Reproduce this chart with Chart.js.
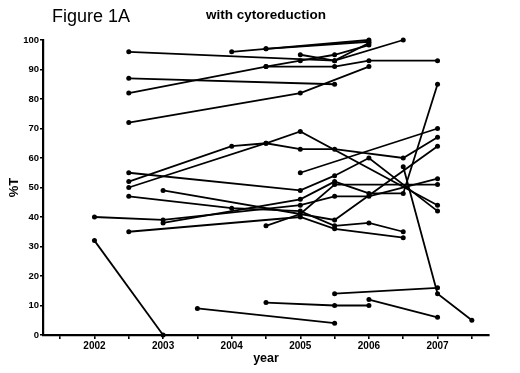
<!DOCTYPE html>
<html>
<head>
  <meta charset="UTF-8">
  <title>Figure 1A</title>
  <style>
    body { margin: 0; background: #fff; }
    #wrap { width: 520px; height: 373px; position: relative; }
  </style>
  <script src="https://cdn.jsdelivr.net/npm/chart.js"></script>
</head>
<body>
  <div id="wrap"><canvas id="fig"></canvas></div>

  <script>
    // one small array per patient: [year, %T]
    const pt01 = [[2002.5, 96], [2005.5, 93], [2006.5, 100]];
    const pt02 = [[2004, 96], [2004.5, 97], [2006, 100]];
    const pt03 = [[2004.5, 97], [2006, 99.4]];
    const pt04 = [[2002.5, 82], [2004.5, 91], [2005, 93], [2005.5, 95], [2006, 98.3]];
    const pt05 = [[2005, 95], [2005.5, 93], [2006, 99]];
    const pt06 = [[2002.5, 87], [2005.5, 85]];
    const pt07 = [[2002.5, 72], [2005, 82], [2006, 91]];
    const pt08 = [[2004.5, 91], [2005.5, 91], [2006, 93], [2007, 93]];
    const pt09 = [[2002.5, 55], [2005, 49], [2005.5, 54], [2006, 60], [2007, 42]];
    const pt10 = [[2002.5, 52], [2004, 64], [2004.5, 65], [2005, 69], [2007, 44]];
    const pt11 = [[2002.5, 50], [2004.5, 65], [2005, 63], [2005.5, 63], [2006.5, 60], [2007, 67]];
    const pt12 = [[2005, 55], [2007, 70]];
    const pt13 = [[2002, 40], [2003, 39], [2005, 44], [2005.5, 47], [2006, 47], [2007, 53]];
    const pt14 = [[2003, 38], [2005, 46], [2005.5, 52], [2006, 48], [2006.5, 48], [2007, 85]];
    const pt15 = [[2002.5, 47], [2004, 43], [2005, 42], [2005.5, 37], [2006, 38], [2006.5, 35]];
    const pt16 = [[2002.5, 35], [2005, 40], [2005.5, 36], [2006.5, 33]];
    const pt17 = [[2003, 49], [2005.5, 39], [2007, 64]];
    const pt18 = [[2004.5, 37], [2005, 41], [2005.5, 51], [2007, 51]];
    const pt19 = [[2006.5, 57], [2007, 14], [2007.5, 5]];
    const pt20 = [[2002, 32], [2003, 0]];
    const pt21 = [[2003.5, 9], [2005.5, 4]];
    const pt22 = [[2004.5, 11], [2005.5, 10], [2006, 10]];
    const pt23 = [[2006, 12], [2007, 6]];
    const pt24 = [[2005.5, 14], [2007, 16]];

    const patients = [pt01, pt02, pt03, pt04, pt05, pt06, pt07, pt08, pt09, pt10, pt11, pt12,
                      pt13, pt14, pt15, pt16, pt17, pt18, pt19, pt20, pt21, pt22, pt23, pt24];

    const xTicks = [2001.5, 2002, 2002.5, 2003, 2003.5, 2004, 2004.5, 2005, 2005.5, 2006, 2006.5, 2007, 2007.5];
    const yTicks = [0, 10, 20, 30, 40, 50, 60, 70, 80, 90, 100];

    const FONT = "Arial, 'Liberation Sans', sans-serif";

    // the two headings above the plot
    const headings = {
      id: 'headings',
      afterDraw(chart) {
        const c = chart.ctx;
        c.save();
        c.fillStyle = '#000';
        c.textBaseline = 'alphabetic';
        c.textAlign = 'left';
        c.font = '18px ' + FONT;
        c.fillText('Figure 1A', 52, 22);
        c.textAlign = 'center';
        c.font = 'bold 13.5px ' + FONT;
        c.fillText('with cytoreduction', 266, 19);
        c.restore();
      }
    };

    const datasets = patients.map(p => ({
      data: p.map(([x, y]) => ({ x: x, y: y })),
      showLine: true,
      borderColor: '#000',
      backgroundColor: '#000',
      borderWidth: 1.8,
      pointRadius: 2.5,
      pointBorderWidth: 0,
      pointBackgroundColor: '#000',
      clip: false
    }));

    new Chart(document.getElementById('fig'), {
      type: 'scatter',
      data: { datasets: datasets },
      plugins: [headings],
      options: {
        responsive: true,
        maintainAspectRatio: false,
        animation: false,
        events: [],
        layout: { padding: { left: 0, top: 40, right: 31, bottom: 0 } },
        plugins: { legend: { display: false }, tooltip: { enabled: false } },
        scales: {
          x: {
            type: 'linear',
            min: 2001.25,
            max: 2007.75,
            afterBuildTicks: s => { s.ticks = xTicks.map(v => ({ value: v })); },
            afterFit: s => { s.height = 38; },
            border: { color: '#000', width: 2.2 },
            grid: { drawOnChartArea: false, color: '#000', lineWidth: 1.6, tickLength: 4 },
            ticks: {
              color: '#000',
              padding: 1,
              maxRotation: 0,
              autoSkip: false,
              font: { family: FONT, size: 10, weight: 'bold' },
              callback: v => Number.isInteger(v) ? String(v) : ''
            },
            title: {
              display: true,
              text: 'year',
              color: '#000',
              font: { family: FONT, size: 12.5, weight: 'bold' },
              padding: { top: 0, bottom: 7 }
            }
          },
          y: {
            min: 0,
            max: 100,
            afterBuildTicks: s => { s.ticks = yTicks.map(v => ({ value: v })); },
            afterFit: s => { s.width = 43; },
            border: { color: '#000', width: 2.2 },
            grid: { drawOnChartArea: false, color: '#000', lineWidth: 1.6, tickLength: 3 },
            ticks: {
              color: '#000',
              padding: 1,
              font: { family: FONT, size: 9.5, weight: 'bold' }
            },
            title: {
              display: true,
              text: '%T',
              color: '#000',
              font: { family: FONT, size: 13, weight: 'bold' },
              padding: { top: 7, bottom: 0 }
            }
          }
        }
      }
    });
  </script>
</body>
</html>
